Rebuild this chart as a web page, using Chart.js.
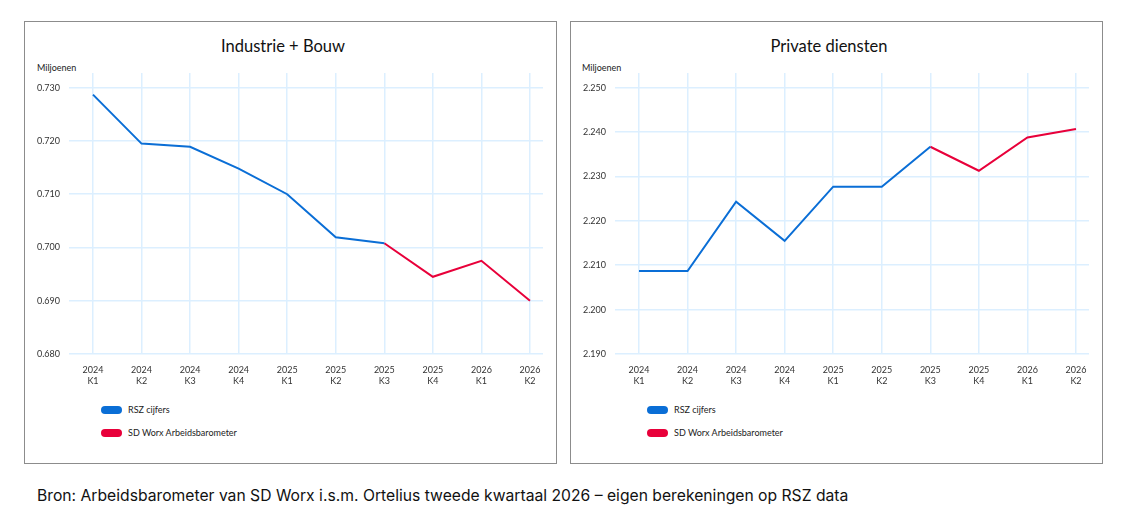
<!DOCTYPE html>
<html>
<head>
<meta charset="utf-8">
<script src="https://cdn.jsdelivr.net/npm/chart.js@4.4.1/dist/chart.umd.min.js"></script>
<style>
  body { margin: 0; background: #fff; font-family: "Lato", sans-serif; color: #222; }
  .box { position: absolute; top: 21px; height: 441px; border: 1px solid #8c8c8c; }
  .title { position: absolute; top: 36px; font-size: 16.5px; font-weight: 400; color: #111; transform: translateX(-50%); white-space: nowrap; }
  .unit { position: absolute; top: 62px; font-size: 9px; color: #222; }
  .leg { position: absolute; font-size: 9px; color: #222; }
  .leg i { position: absolute; left: 0; top: 0; width: 21px; height: 8px; border-radius: 4px; }
  .leg span { position: absolute; left: 27px; top: -2px; white-space: nowrap; }
  canvas { position: absolute; }
  .src { position: absolute; left: 37px; top: 486px; font-family: "Inter", sans-serif; font-size: 15.7px; color: #111; white-space: nowrap; }
</style>
</head>
<body>
<div class="box" style="left:24px;width:531px"></div>
<div class="box" style="left:570px;width:531px"></div>

<div class="title" style="left:283px">Industrie + Bouw</div>
<div class="title" style="left:829px">Private diensten</div>
<div class="unit" style="left:37px">Miljoenen</div>
<div class="unit" style="left:582px">Miljoenen</div>

<div style="position:absolute;left:25px;top:60px;width:529px;height:340px"><canvas id="left"></canvas></div>
<div style="position:absolute;left:571px;top:60px;width:529px;height:340px"><canvas id="right"></canvas></div>

<div class="leg" style="left:101px;top:406px"><i style="background:#0a6ed6"></i><span>RSZ cijfers</span></div>
<div class="leg" style="left:101px;top:429px"><i style="background:#e8003a"></i><span>SD Worx Arbeidsbarometer</span></div>
<div class="leg" style="left:647px;top:406px"><i style="background:#0a6ed6"></i><span>RSZ cijfers</span></div>
<div class="leg" style="left:647px;top:429px"><i style="background:#e8003a"></i><span>SD Worx Arbeidsbarometer</span></div>

<div class="src">Bron: Arbeidsbarometer van SD Worx i.s.m. Ortelius tweede kwartaal 2026 – eigen berekeningen op RSZ data</div>

<script>
const quarters = [
  ["2024", "K1"], ["2024", "K2"], ["2024", "K3"], ["2024", "K4"],
  ["2025", "K1"], ["2025", "K2"], ["2025", "K3"], ["2025", "K4"],
  ["2026", "K1"], ["2026", "K2"]
];

// Industrie + Bouw (miljoenen)
const indRsz = [0.7287, 0.7195, 0.7189, 0.7148, 0.7100, 0.7019, 0.7008, null, null, null];
const indSdw = [null, null, null, null, null, null, 0.7008, 0.6945, 0.6975, 0.6900];
const indTicks = [0.680, 0.690, 0.700, 0.710, 0.720, 0.730];

// Private diensten (miljoenen)
const privRsz = [2.2087, 2.2087, 2.2243, 2.2155, 2.2277, 2.2277, 2.2367, null, null, null];
const privSdw = [null, null, null, null, null, null, 2.2367, 2.2313, 2.2388, 2.2407];
const privTicks = [2.190, 2.200, 2.210, 2.220, 2.230, 2.240, 2.250];

const blue = "#0a6ed6";
const red = "#e8003a";
const gridColor = "#dcefff";
const tickFont = { family: "Lato", size: 9 };

function points(arr) {
  return arr.map((v, i) => ({ x: i, y: v }));
}

function makeChart(id, rsz, sdw, ticks, yMax) {
  const ctx = document.getElementById(id);
  return new Chart(ctx, {
    type: "line",
    data: {
      datasets: [
        { label: "RSZ cijfers", data: points(rsz), borderColor: blue, backgroundColor: blue, borderWidth: 2, pointRadius: 0, tension: 0 },
        { label: "SD Worx Arbeidsbarometer", data: points(sdw), borderColor: red, backgroundColor: red, borderWidth: 2, pointRadius: 0, tension: 0 },
      ],
    },
    options: {
      responsive: true,
      maintainAspectRatio: false,
      animation: false,
      layout: { padding: { left: 12, right: 11, top: 13, bottom: 6 } },
      plugins: { legend: { display: false }, tooltip: { enabled: false } },
      scales: {
        x: {
          type: "linear",
          min: -0.494,
          max: 9.268,
          afterBuildTicks: (s) => { s.ticks = quarters.map((_, i) => ({ value: i })); },
          afterFit: (s) => { s.height = 40; },
          ticks: {
            callback: (v) => quarters[v],
            font: tickFont,
            color: "#333",
            padding: 11,
            maxRotation: 0,
            autoSkip: false,
          },
          grid: { color: gridColor, lineWidth: 1.5, drawTicks: false },
          border: { display: false },
        },
        y: {
          min: ticks[0],
          max: yMax,
          afterBuildTicks: (s) => { s.ticks = ticks.map((v) => ({ value: v })); },
          afterFit: (s) => { s.width = 32; },
          ticks: {
            callback: (v) => v.toFixed(3),
            font: tickFont,
            color: "#333",
            crossAlign: "far",
            padding: 0,
          },
          grid: { color: gridColor, lineWidth: 1.5, drawTicks: false },
          border: { display: false },
        },
      },
    },
  });
}

makeChart("left", indRsz, indSdw, indTicks, 0.73276);
makeChart("right", privRsz, privSdw, privTicks, 2.25332);
</script>
</body>
</html>
